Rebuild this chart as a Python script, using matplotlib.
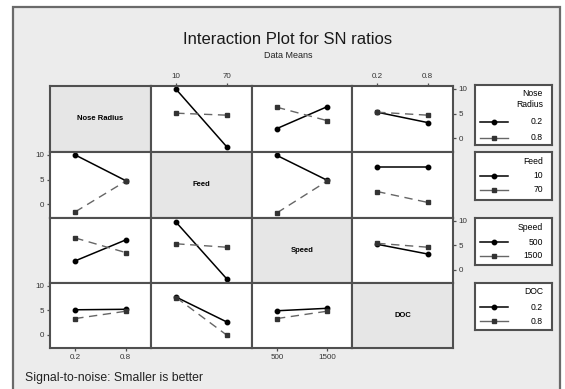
import matplotlib.pyplot as plt
from matplotlib.patches import Rectangle

plt.rcParams['font.family'] = ['Liberation Sans', 'DejaVu Sans']

# factors and levels
factors = ["Nose Radius", "Feed", "Speed", "DOC"]
nose_radius = ["0.2", "0.8"]
feed = ["10", "70"]
speed = ["500", "1500"]
doc = ["0.2", "0.8"]
levels = [nose_radius, feed, speed, doc]

# SN ratio means: [line level 1, line level 2] each over the x-factor levels
nr_by_feed = [[9.9, -1.7], [5.1, 4.7]]
nr_by_speed = [[2.0, 6.4], [6.3, 3.6]]
nr_by_doc = [[5.3, 3.2], [5.3, 4.7]]
feed_by_nr = [[10.0, 4.8], [-1.5, 4.7]]
feed_by_speed = [[9.9, 4.9], [-1.7, 4.7]]
feed_by_doc = [[7.6, 7.6], [2.6, 0.4]]
speed_by_nr = [[1.8, 6.1], [6.5, 3.5]]
speed_by_feed = [[9.7, -1.9], [5.3, 4.6]]
speed_by_doc = [[5.2, 3.2], [5.4, 4.6]]
doc_by_nr = [[5.1, 5.2], [3.3, 4.8]]
doc_by_feed = [[7.7, 2.6], [7.6, -0.1]]
doc_by_speed = [[4.9, 5.4], [3.3, 4.8]]

panels = {
    (0, 1): nr_by_feed, (0, 2): nr_by_speed, (0, 3): nr_by_doc,
    (1, 0): feed_by_nr, (1, 2): feed_by_speed, (1, 3): feed_by_doc,
    (2, 0): speed_by_nr, (2, 1): speed_by_feed, (2, 3): speed_by_doc,
    (3, 0): doc_by_nr, (3, 1): doc_by_feed, (3, 2): doc_by_speed,
}
yticks = [0, 5, 10]

W, H = 565, 389
fig = plt.figure(figsize=(W / 100, H / 100), dpi=100)
fig.patch.set_facecolor("white")

def fx(x):
    return x / W

def fy(y):
    return 1 - y / H

# outer panel
bg = Rectangle((fx(13), fy(395)), fx(560) - fx(13), fy(7) - fy(395),
               transform=fig.transFigure, facecolor="#ececec",
               edgecolor="#6a6a6a", linewidth=1.6, zorder=-5)
fig.add_artist(bg)

fig.text(fx(288), fy(40), "Interaction Plot for SN ratios", ha="center", va="center",
         fontsize=12, color="#1a1a1a")
fig.text(fx(288), fy(56), "Data Means", ha="center", va="center", fontsize=6.5, color="#222222")
fig.text(fx(25), fy(378), "Signal-to-noise: Smaller is better", ha="left", va="center",
         fontsize=8.8, color="#222222")

col_edges = [50, 151, 252, 352, 453]
row_edges = [86, 152, 218, 283, 348]
edge_col = "#505050"

for r in range(4):
    for c in range(4):
        x0, x1 = col_edges[c], col_edges[c + 1]
        y0, y1 = row_edges[r], row_edges[r + 1]
        ax = fig.add_axes([fx(x0), fy(y1), fx(x1) - fx(x0), fy(y0) - fy(y1)])
        ax.set_xlim(-0.5, 1.5)
        ax.set_ylim(-2.75, 10.6)
        for s in ax.spines.values():
            s.set_color(edge_col)
            s.set_linewidth(1.5)
        ax.tick_params(length=2.5, width=0.9, color=edge_col, labelsize=5.8,
                       labelcolor="#333333", pad=1.5)
        ax.set_xticks([])
        ax.set_yticks([])
        if r == c:
            ax.set_facecolor("#e6e6e6")
            ax.text(0.5, 0.5, factors[r], transform=ax.transAxes, ha="center",
                    va="center", fontsize=5.5, fontweight="bold")
            continue
        ax.set_facecolor("white")
        data = panels[(r, c)]
        ax.plot([0, 1], data[0], color="black", linestyle="-", marker="o",
                markersize=3.2, linewidth=1.1)
        ax.plot([0, 1], data[1], color="#666666", linestyle=(0, (6, 4)), marker="s",
                markersize=3.0, markerfacecolor="#333333", markeredgecolor="#333333",
                linewidth=1.0)
        # x tick labels: bottom on odd columns, top on even columns
        if r == 3 and c % 2 == 0:
            ax.set_xticks([0, 1])
            ax.set_xticklabels(levels[c])
        if r == 0 and c % 2 == 1:
            ax.set_xticks([0, 1])
            ax.set_xticklabels(levels[c])
            ax.xaxis.tick_top()
        # y tick labels: left on rows 2, 4; right on rows 1, 3
        if c == 0 and r % 2 == 1:
            ax.set_yticks(yticks)
        if c == 3 and r % 2 == 0:
            ax.set_yticks(yticks)
            ax.yaxis.tick_right()

# legends
legend_boxes = [(85, 145), (152, 200), (218, 265), (283, 330)]
for i, (b0, b1) in enumerate(legend_boxes):
    lax = fig.add_axes([fx(475), fy(b1), fx(552) - fx(475), fy(b0) - fy(b1)])
    lax.set_facecolor("white")
    for s in lax.spines.values():
        s.set_color(edge_col)
        s.set_linewidth(1.5)
    lax.set_xticks([])
    lax.set_yticks([])
    lax.set_xlim(475, 552)
    lax.set_ylim(b1, b0)
    if i == 0:
        lax.text(543, b0 + 14, "Nose\nRadius", ha="right", va="center", fontsize=6.2,
                 linespacing=1.2)
        ys = [b0 + 37, b0 + 53]
    else:
        lax.text(543, b0 + 9, factors[i], ha="right", va="center", fontsize=6.2)
        ys = [b0 + 24, b0 + 38]
    lax.plot([480, 508], [ys[0], ys[0]], color="black", linewidth=1.1)
    lax.plot([494], [ys[0]], color="black", marker="o", markersize=3.2)
    lax.plot([480, 508], [ys[1], ys[1]], color="#666666", linewidth=1.0)
    lax.plot([494], [ys[1]], color="#333333", marker="s", markersize=3.0)
    for y, lab in zip(ys, levels[i]):
        lax.text(543, y, lab, ha="right", va="center", fontsize=6.2)

fig.savefig("out.png", dpi=100)
